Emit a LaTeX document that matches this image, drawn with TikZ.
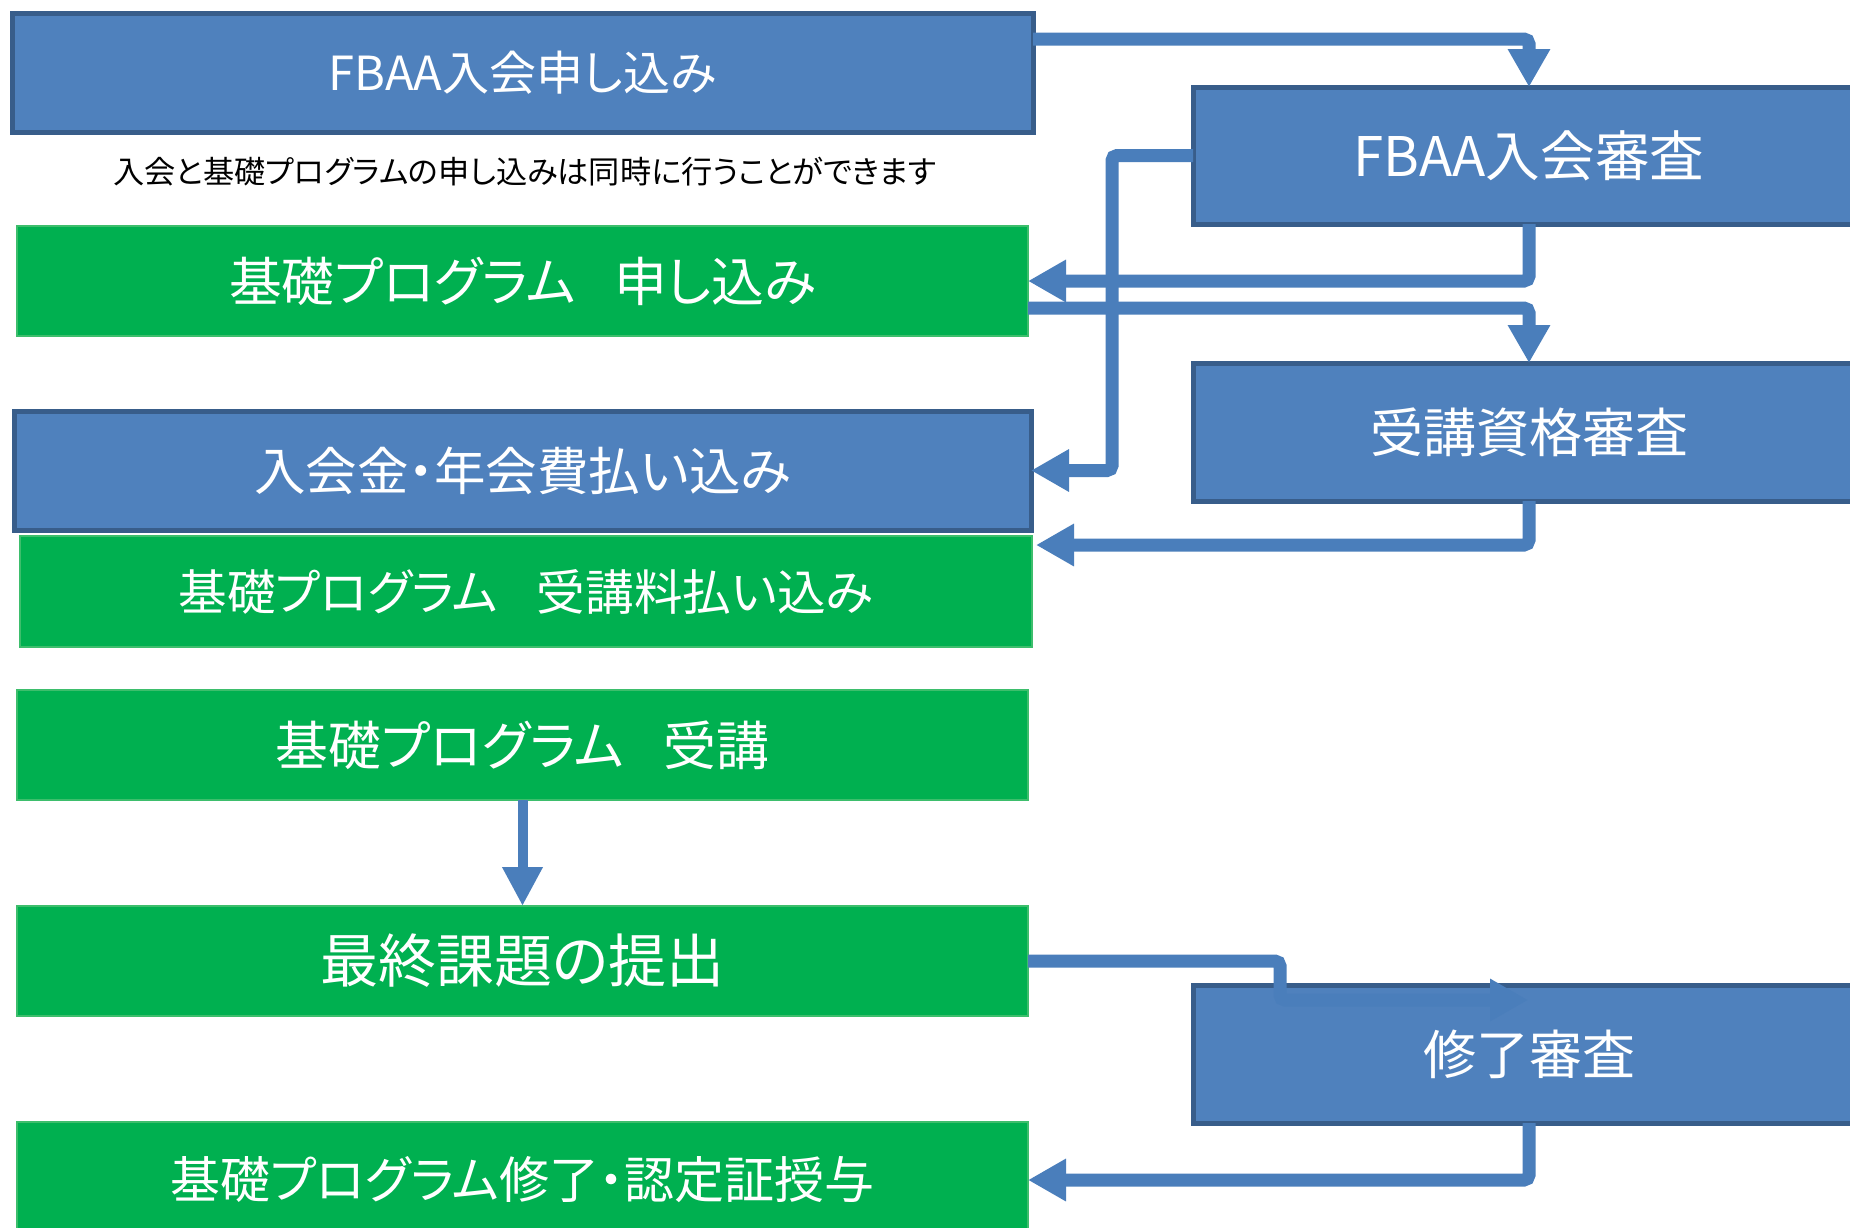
\documentclass[tikz,border=0pt]{standalone}
\usepackage{fontspec}
\setmainfont{Noto Sans CJK JP}[RawFeature=+palt]
\usetikzlibrary{arrows.meta}
\definecolor{bfill}{HTML}{4F81BD}
\definecolor{bborder}{HTML}{385D8A}
\definecolor{gfill}{HTML}{00B050}
\definecolor{gborder}{HTML}{3DBE6C}
\definecolor{connc}{HTML}{4A7EBB}
\tikzset{
  bluebox/.style={draw=bborder, line width=5pt, fill=bfill, text=white, inner sep=0pt, outer sep=0pt},
  greenbox/.style={draw=gborder, line width=1.2pt, fill=gfill, text=white, inner sep=0pt, outer sep=0pt},
  conn/.style={draw=connc, line width=13pt, rounded corners=5pt, -{Triangle[width=40pt,length=38pt]}},
  thinconn/.style={draw=connc, line width=10pt, -{Triangle[width=38pt,length=39pt]}},
  fs/.style={font=\fontsize{#1pt}{#1pt}\selectfont},
}
\begin{document}
\begin{tikzpicture}[x=1pt,y=-1pt]
\useasboundingbox (0,0) rectangle (1850,1227);
\clip (0,0) rectangle (1850,1227);
\fill[white] (0,0) rectangle (1850,1227);

% left column
\node[bluebox, minimum width=1021pt, minimum height=119pt, fs=47] (b1) at (522.5,72.5) {FBAA入会申し込み};
\node[fs=31.2, text=black, inner sep=0pt] (note) at (525,172) {入会と基礎プログラムの申し込みは同時に行うことができます};
\node[greenbox, minimum width=1011pt, minimum height=110pt, fs=52.8] (g1) at (522.5,281) {基礎プログラム\hspace{0.72em}申し込み};
\node[bluebox, minimum width=1017pt, minimum height=119pt, fs=51.5] (b2) at (522.5,470.5) {入会金・年会費払い込み};
\node[greenbox, minimum width=1012pt, minimum height=111pt, fs=48.6] (g2) at (526,591.5) {基礎プログラム\hspace{0.8em}受講料払い込み};
\node[greenbox, minimum width=1011pt, minimum height=110pt, fs=52.9] (g3) at (522.5,745) {基礎プログラム\hspace{0.75em}受講};
\node[greenbox, minimum width=1011pt, minimum height=110pt, fs=58] (g4) at (522.5,961) {最終課題の提出};
\node[greenbox, minimum width=1011pt, minimum height=116pt, fs=50] (g5) at (522.5,1180) {基礎プログラム修了・認定証授与};

% right column
\node[bluebox, minimum width=672pt, minimum height=137pt, fs=54.6] (r1) at (1529,155.5) {FBAA入会審査};
\node[bluebox, minimum width=672pt, minimum height=138pt, fs=53] (r2) at (1529,432) {受講資格審査};
\node[bluebox, minimum width=672pt, minimum height=138pt, fs=53] (r3) at (1529,1054) {修了審査};
\coordinate (t5) at (1036,545);
\coordinate (t7) at (1528,1000);

% connectors
\draw[conn] (b1.north east) ++(0,26) -| (r1.north);
\draw[conn] (r1.south) |- (g1.east);
\draw[conn] (g1.south east) ++(0,-28) -| (r2.north);
\draw[conn] (r1.west) -- (1112,155.5) |- (b2.east);
\draw[conn] (r2.south) |- (t5);
\draw[thinconn] (g3.south) -- (g4.north);
\draw[conn] (g4.east) -- (1280,961) |- (t7);
\draw[conn] (r3.south) |- (g5.east);
\end{tikzpicture}
\end{document}
